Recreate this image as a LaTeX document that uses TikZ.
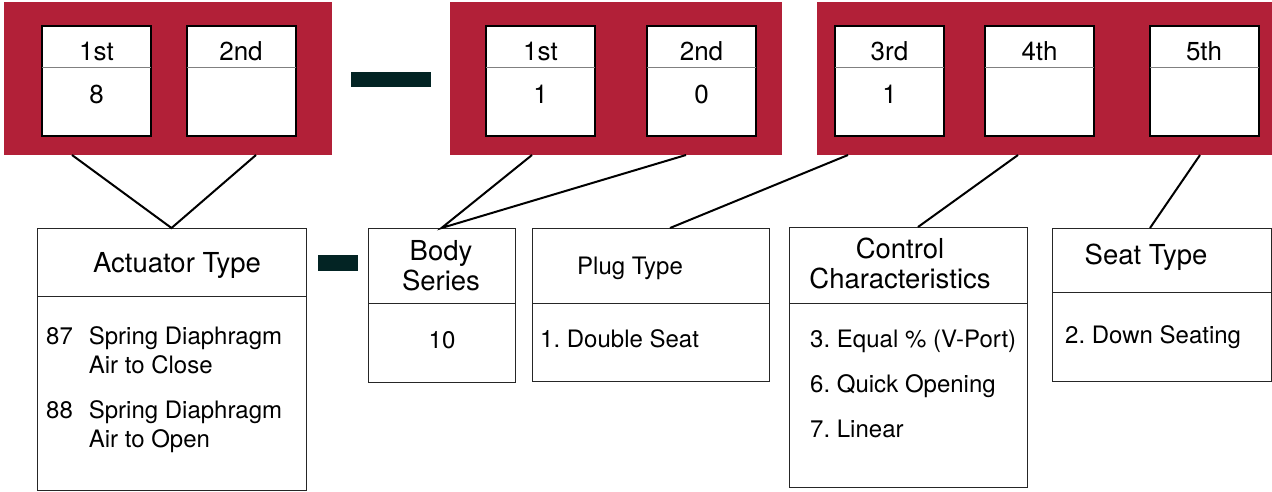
\documentclass[tikz,border=0pt]{standalone}
\usepackage{fontspec}
\setmainfont{TeX Gyre Heros}
\usepackage{tikz}
\usetikzlibrary{positioning}

\definecolor{codered}{RGB}{178,32,56}
\definecolor{dashink}{RGB}{3,36,36}
\newcommand{\titlesize}{\fontsize{27.5}{30}\selectfont}
\newcommand{\ranksize}{\fontsize{26}{30}\selectfont}
\newcommand{\itemsize}{\fontsize{24}{29}\selectfont}
\frenchspacing

\begin{document}
\begin{tikzpicture}[x = 1pt, y = -1pt,
        digit/.style = {draw=black, line width=2pt, fill=white, minimum width=109pt, minimum height=110pt, inner sep=0pt},
        frame/.style = {draw=black!85, line width=1pt, fill=white, inner sep=0pt, outer sep=0pt},
        txt/.style = {inner sep=0pt, anchor=base},
        link/.style = {line width=2pt, black}]

            \useasboundingbox (0,0) rectangle (1272,491);

            \fill[codered] (4,2) rectangle (332,155);
            \fill[codered] (450,2) rectangle (782,155);
            \fill[codered] (817,2) rectangle (1272,155);

            \fill[dashink] (351,72) rectangle (431,87);
            \fill[dashink] (318,255) rectangle (358,271);

            \foreach \name/\x/\rank/\val in {a1/96.5/1st/8, a2/241/2nd/, b1/540.5/1st/1, b2/701.5/2nd/0, b3/889.5/3rd/1, b4/1039.5/4th/, b5/1204/5th/} {
                \node[digit] (\name) at (\x,81) {};
                \draw[black!50, line width=1pt, shorten <=1pt, shorten >=1pt] ([yshift=-42pt]\name.north west) -- ([yshift=-42pt]\name.north east);
                \node[txt, font=\ranksize] (\name-r) at ([yshift=-35pt]\name.north) {\rank};
                \node[txt, font=\ranksize] (\name-v) at ([yshift=-78pt]\name.north) {\val};
            }

            \node[frame, minimum width=269pt, minimum height=68pt] (acthead) at (171.5,262) {};
            \node[frame, minimum width=269pt, minimum height=194pt, below=0pt of acthead] (actlist) {};
            \node[frame, minimum width=147pt, minimum height=75pt] (bodyhead) at (441.5,265.5) {};
            \node[frame, minimum width=147pt, minimum height=79pt, below=0pt of bodyhead] (bodylist) {};
            \node[frame, minimum width=237pt, minimum height=75pt] (plughead) at (650.5,265.5) {};
            \node[frame, minimum width=237pt, minimum height=78pt, below=0pt of plughead] (pluglist) {};
            \node[frame, minimum width=238pt, minimum height=76pt] (conhead) at (908,265) {};
            \node[frame, minimum width=238pt, minimum height=184pt, below=0pt of conhead] (conlist) {};
            \node[frame, minimum width=219pt, minimum height=64pt] (seathead) at (1161.5,260) {};
            \node[frame, minimum width=219pt, minimum height=89pt, below=0pt of seathead] (seatlist) {};

            \node[txt, font=\titlesize] (acttitle) at (177,272) {Actuator Type};
            \node[txt, font=\titlesize] (bodytitle) at (441,260) {\begin{tabular}[t]{@{}c@{}}Body\\Series\end{tabular}};
            \node[txt, font=\itemsize] (plugtitle) at (630,274) {Plug Type};
            \node[txt, font=\titlesize] (contitle) at (900,258) {\begin{tabular}[t]{@{}c@{}}Control\\Characteristics\end{tabular}};
            \node[txt, font=\titlesize] (seattitle) at (1146,264) {Seat Type};

            \node[txt, anchor=base west, font=\itemsize] (actitems) at (46,344) {\begin{tabular}[t]{@{}l@{\hspace{16pt}}l@{}}87 & Spring Diaphragm\\ & Air to Close\\[16pt] 88 & Spring Diaphragm\\ & Air to Open\end{tabular}};
            \node[txt, font=\itemsize] (bodyitem) at (442,348) {10};
            \node[txt, anchor=base west, font=\itemsize] (plugitem) at (540,347) {1. Double Seat};
            \node[txt, anchor=base west, font=\itemsize] (conitems) at (810,347) {\begin{tabular}[t]{@{}l@{}}3. Equal \% (V-Port)\\[16pt] 6. Quick Opening\\[16pt] 7. Linear\end{tabular}};
            \node[txt, anchor=base west, font=\itemsize] (seatitem) at (1065,343) {2. Down Seating};

            \coordinate (a1foot) at (72,155);
            \coordinate (a2foot) at (256,155);
            \coordinate (b1foot) at (532,155);
            \coordinate (b2foot) at (686,155);
            \coordinate (b3foot) at (848,155);
            \coordinate (b4foot) at (1018,155);
            \coordinate (b5foot) at (1200,155);

            \draw[link] (a1foot) -- (acthead.north) -- (a2foot);
            \draw[link] (b1foot) -- (bodyhead.north) -- (b2foot);
            \draw[link] (b3foot) -- ([xshift=19.5pt]plughead.north);
            \draw[link] (b4foot) -- ([xshift=10pt]conhead.north);
            \draw[link] (b5foot) -- ([xshift=-11.5pt]seathead.north);
        \end{tikzpicture}
\end{document}
